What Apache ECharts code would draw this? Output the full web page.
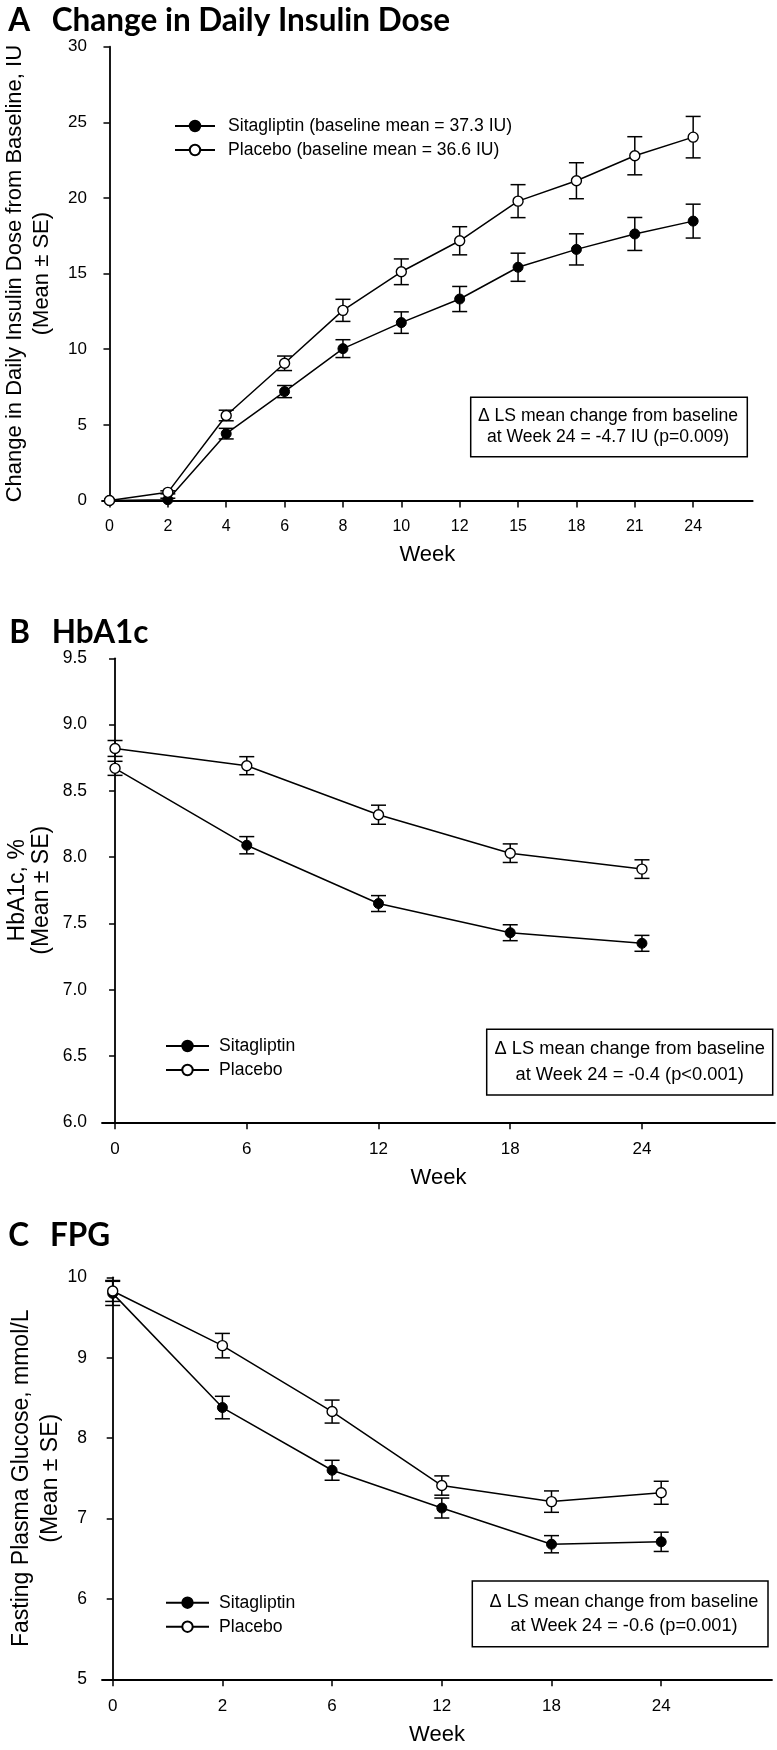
<!DOCTYPE html>
<html><head><meta charset="utf-8">
<script src="https://cdn.jsdelivr.net/npm/echarts@6/dist/echarts.min.js"></script>
<style>html,body{margin:0;padding:0;background:#fff}#c{width:777px;height:1750px}</style>
</head><body><div id="c"></div>
<script>
// ---------- Panel A: Change in Daily Insulin Dose ----------
const weeksA = ['0','2','4','6','8','10','12','15','18','21','24'];
const sitaA   = [0, 0.05, 4.42, 7.20, 10.04, 11.76, 13.32, 15.42, 16.60, 17.62, 18.47];
const sitaAse = [0, 0.10, 0.35, 0.40, 0.59, 0.71, 0.83, 0.93, 1.03, 1.09, 1.12];
const placA   = [0, 0.54, 5.62, 9.07, 12.57, 15.12, 17.17, 19.79, 21.14, 22.79, 24.02];
const placAse = [0, 0.10, 0.35, 0.48, 0.73, 0.85, 0.93, 1.09, 1.19, 1.26, 1.37];
const namesA = ['Sitagliptin (baseline mean = 37.3 IU)', 'Placebo (baseline mean = 36.6 IU)'];
const noteA = 'Δ LS mean change from baseline\nat Week 24 = -4.7 IU (p=0.009)';

// ---------- Panel B: HbA1c ----------
const weeksB = ['0','6','12','18','24'];
const sitaB   = [8.67, 8.09, 7.65, 7.43, 7.35];
const sitaBse = [0.053, 0.065, 0.06, 0.06, 0.06];
const placB   = [8.82, 8.69, 8.32, 8.03, 7.91];
const placBse = [0.06, 0.068, 0.072, 0.07, 0.07];
const noteB = 'Δ LS mean change from baseline\nat Week 24 = -0.4 (p<0.001)';

// ---------- Panel C: FPG ----------
const weeksC = ['0','2','6','12','18','24'];
const sitaC   = [9.80, 8.38, 7.60, 7.13, 6.68, 6.71];
const sitaCse = [0.15, 0.14, 0.124, 0.124, 0.107, 0.12];
const placC   = [9.83, 9.15, 8.33, 7.41, 7.21, 7.32];
const placCse = [0.13, 0.152, 0.143, 0.12, 0.133, 0.143];
const noteC = 'Δ LS mean change from baseline\nat Week 24 = -0.6 (p=0.001)';

const namesBC = ['Sitagliptin', 'Placebo'];

const FONT = "'Liberation Sans', Arial, sans-serif";
const TFONT = "Lato, 'Noto Sans', sans-serif";
const BLACK = '#000';

const chart = echarts.init(document.getElementById('c'), null, {renderer: 'canvas'});

function xAxisCfg(gi, labels, min, max, fs, margin, gap) {
  const idx = labels.map((_, i) => i);
  return {
    type: 'value', gridIndex: gi, min: min, max: max,
    axisLine: {show: true, onZero: false, lineStyle: {color: BLACK, width: 1.8}},
    axisTick: {show: true, length: 7, inside: false, customValues: idx, lineStyle: {color: BLACK, width: 1.5}},
    axisLabel: {show: true, customValues: idx, formatter: v => labels[Math.round(v)],
      color: BLACK, fontSize: fs, fontFamily: FONT, margin: margin},
    splitLine: {show: false},
    name: 'Week', nameLocation: 'middle', nameGap: gap, nameMoveOverlap: false,
    nameTextStyle: {color: BLACK, fontSize: 22, fontFamily: FONT}
  };
}
function yAxisCfg(gi, min, max, interval, fs, dec, name, nfs, lh, gap) {
  return {
    type: 'value', gridIndex: gi, min: min, max: max, interval: interval,
    axisLine: {show: true, lineStyle: {color: BLACK, width: 1.8}},
    axisTick: {show: true, length: 6, lineStyle: {color: BLACK, width: 1.5}},
    axisLabel: {color: BLACK, fontSize: fs, fontFamily: FONT, margin: 15,
      formatter: v => v.toFixed(dec)},
    splitLine: {show: false},
    name: name, nameLocation: 'middle', nameGap: gap, nameMoveOverlap: false,
    nameTextStyle: {color: BLACK, fontSize: nfs, fontFamily: FONT, lineHeight: lh, align: 'center'}
  };
}

function pairs(vals) { return vals.map((v, i) => [i, v]); }
function errData(vals, se) { return vals.map((v, i) => [i, v, se[i]]); }

function errRender(params, api) {
  const x = api.value(0), v = api.value(1), e = api.value(2);
  if (!e) return null;
  const t = api.coord([x, v + e]);
  const b = api.coord([x, v - e]);
  const hw = 7.5;
  const st = {stroke: BLACK, lineWidth: 1.5, fill: null};
  return {type: 'group', children: [
    {type: 'line', shape: {x1: t[0], y1: t[1], x2: b[0], y2: b[1]}, style: st},
    {type: 'line', shape: {x1: t[0] - hw, y1: t[1], x2: t[0] + hw, y2: t[1]}, style: st},
    {type: 'line', shape: {x1: b[0] - hw, y1: b[1], x2: b[0] + hw, y2: b[1]}, style: st}
  ]};
}

function lineSeries(gi, name, vals, filled, openFirst) {
  const data = pairs(vals).map((p, i) => (openFirst && i === 0)
    ? {value: p, itemStyle: {color: '#fff', borderColor: BLACK, borderWidth: 1.4}} : p);
  return {
    type: 'line', name: name, xAxisIndex: gi, yAxisIndex: gi, data: data,
    symbol: 'circle', symbolSize: 10, showSymbol: true, animation: false,
    lineStyle: {color: BLACK, width: 1.5},
    itemStyle: filled ? {color: BLACK, borderColor: BLACK, borderWidth: 1} : {color: '#fff', borderColor: BLACK, borderWidth: 1.4},
    z: filled ? 3 : 4
  };
}
function errSeries(gi, vals, se) {
  return {type: 'custom', xAxisIndex: gi, yAxisIndex: gi, data: errData(vals, se),
    renderItem: errRender, encode: {x: 0, y: 1}, z: 2, animation: false, silent: true};
}

function legendCfg(names, left, top, w, tpad) {
  return {
    data: names, orient: 'vertical', left: left, top: top, itemWidth: w, itemHeight: 13,
    itemGap: 4, selectedMode: false, padding: 0,
    textStyle: {color: BLACK, fontSize: 17.6, fontFamily: FONT, lineHeight: 20, padding: [0, 0, 0, tpad]}
  };
}

function noteBox(x1, y1, x2, y2, text, fs, lh, cx) {
  return {type: 'group', children: [
    {type: 'rect', shape: {x: x1, y: y1, width: x2 - x1, height: y2 - y1},
      style: {fill: '#fff', stroke: BLACK, lineWidth: 1.5}},
    {type: 'text', x: cx, y: (y1 + y2) / 2,
      style: {text: text, fill: BLACK, font: fs + 'px ' + FONT, lineHeight: lh,
        align: 'center', verticalAlign: 'middle', textAlign: 'center', textVerticalAlign: 'middle'}}
  ]};
}
function titleText(x, y, text) {
  return {type: 'text', x: x, y: y,
    style: {text: text, fill: BLACK, font: 'bold 31.5px ' + TFONT,
      align: 'left', verticalAlign: 'middle', textAlign: 'left', textVerticalAlign: 'middle'}};
}

const option = {
  backgroundColor: '#fff',
  animation: false,
  grid: [
    {left: 102, top: 46.7, width: 752.7 - 102, height: 500.5 - 46.7, containLabel: false, outerBoundsMode: 'none'},
    {left: 102, top: 658.3, width: 775 - 102, height: 1122.3 - 658.3, containLabel: false, outerBoundsMode: 'none'},
    {left: 102, top: 1277.3, width: 772 - 102, height: 1679.3 - 1277.3, containLabel: false, outerBoundsMode: 'none'}
  ],
  xAxis: [
    xAxisCfg(0, weeksA, -0.128, 11.02, 16, 18, 43),
    xAxisCfg(1, weeksB, -0.099, 5.01, 17, 18.5, 45),
    xAxisCfg(2, weeksC, -0.0975, 6.01, 17, 19, 44.5)
  ],
  yAxis: [
    yAxisCfg(0, 0, 30, 5, 17, 0, 'Change in Daily Insulin Dose from Baseline, IU\n(Mean ± SE)', 22, 26.7, 47),
    yAxisCfg(1, 6, 9.5, 0.5, 17.5, 1, 'HbA1c, %\n(Mean ± SE)', 23, 24.5, 48),
    yAxisCfg(2, 5, 10, 1, 17.5, 0, 'Fasting Plasma Glucose, mmol/L\n(Mean ± SE)', 23, 29, 37)
  ],
  legend: [
    legendCfg(namesA, 174, 116, 40, 8),
    legendCfg(namesBC, 165, 1036, 43, 5),
    legendCfg(namesBC, 165, 1592.7, 43, 5)
  ],
  graphic: [
    titleText(8.3, 21, 'A'), titleText(51.7, 21, 'Change in Daily Insulin Dose'),
    titleText(9.3, 633, 'B'), titleText(51.7, 633, 'HbA1c'),
    titleText(8.3, 1235.5, 'C'), titleText(50, 1235.5, 'FPG'),
    noteBox(470.7, 397.3, 747.3, 456.7, noteA, 17.6, 21, 608),
    noteBox(486.7, 1029.3, 772.7, 1095, noteB, 18.3, 26, 629.7),
    noteBox(472.3, 1581, 768, 1646.7, noteC, 18.2, 24, 624)
  ],
  series: [
    errSeries(0, sitaA, sitaAse), errSeries(0, placA, placAse),
    lineSeries(0, namesA[0], sitaA, true), lineSeries(0, namesA[1], placA, false),
    errSeries(1, sitaB, sitaBse), errSeries(1, placB, placBse),
    lineSeries(1, namesBC[0], sitaB, true, true), lineSeries(1, namesBC[1], placB, false),
    errSeries(2, sitaC, sitaCse), errSeries(2, placC, placCse),
    lineSeries(2, namesBC[0], sitaC, true), lineSeries(2, namesBC[1], placC, false)
  ]
};
chart.setOption(option);
</script>
</body></html>
